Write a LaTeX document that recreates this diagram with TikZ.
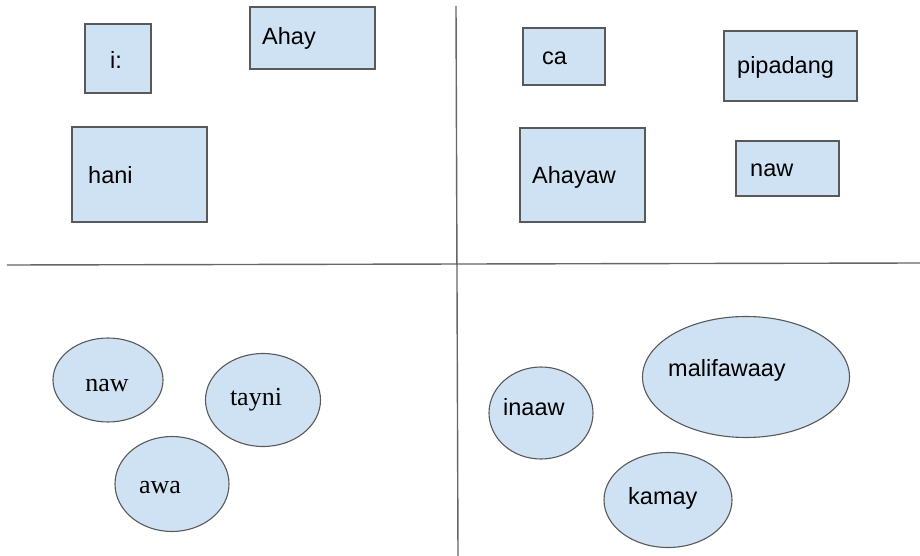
\documentclass[tikz,border=0pt]{standalone}
\usepackage{fontspec}
\setmainfont{Liberation Sans}
\newfontfamily\serifface{Liberation Serif}
\usetikzlibrary{shapes.geometric}
\definecolor{boxfill}{HTML}{CFE2F3}
\definecolor{boxline}{HTML}{595959}
\definecolor{divline}{HTML}{666666}
\tikzset{
  rbox/.style={draw=boxline, fill=boxfill, line width=1.3pt, rectangle},
  ebox/.style={draw=boxline, fill=boxfill, line width=1.1pt, ellipse},
  lbl/.style={font=\fontsize{23.5}{26}\selectfont, inner sep=0pt, anchor=west},
  slbl/.style={font=\serifface\fontsize{26}{28}\selectfont, inner sep=0pt},
  divider/.style={draw=divline, line width=1.4pt}
}
\begin{document}
\begin{tikzpicture}[x=1pt, y=-1pt]
\useasboundingbox (0,0) rectangle (920,556);
% dividers
\coordinate (vt) at (456,6);
\coordinate (vb) at (458,556);
\coordinate (hl) at (7,265);
\coordinate (hr) at (920,263);
\draw[divider] (vt) -- (vb);
\draw[divider] (hl) -- (hr);

% top-left rectangles
\draw[rbox] (85,24) rectangle (151,93);
\node[lbl] (ti) at (110,60) {i:};
\draw[rbox] (250,7) rectangle (375,69);
\node[lbl] (tahay) at (262,38) {Ahay};
\draw[rbox] (72,127) rectangle (207,222);
\node[lbl] (thani) at (88,175) {hani};

% top-right rectangles
\draw[rbox] (523,28) rectangle (605,85);
\node[lbl] (tca) at (542,58) {ca};
\draw[rbox] (724,31) rectangle (857,101);
\node[lbl] (tpip) at (737,67) {pipadang};
\draw[rbox] (520,128) rectangle (645,222);
\node[lbl] (tahayaw) at (532,177) {Ahayaw};
\draw[rbox] (736,141) rectangle (839,196);
\node[lbl] (tnaw) at (750,170) {naw};

% bottom-left ellipses (serif)
\node[ebox, minimum width=110pt, minimum height=84pt] (enaw) at (108,380) {};
\node[slbl] at (107,385) {naw};
\node[ebox, minimum width=115pt, minimum height=93pt] (etayni) at (263,400) {};
\node[slbl] at (256,400) {tayni};
\node[ebox, minimum width=114pt, minimum height=95pt] (eawa) at (172,484) {};
\node[slbl] at (160,488) {awa};

% bottom-right ellipses
\node[ebox, minimum width=104pt, minimum height=92pt] (einaaw) at (541,413) {};
\node[lbl] at (503,407) {inaaw};
\node[ebox, minimum width=207pt, minimum height=121pt] (emali) at (746,377) {};
\node[lbl] at (668,370) {malifawaay};
\node[ebox, minimum width=128pt, minimum height=95pt] (ekamay) at (668,500) {};
\node[lbl] at (628,498) {kamay};
\end{tikzpicture}
\end{document}
